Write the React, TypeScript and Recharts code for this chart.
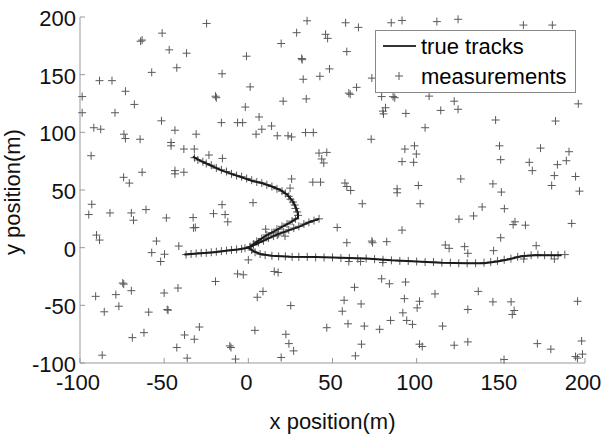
import { ScatterChart, Scatter, XAxis, YAxis } from "recharts";

// axis ticks (metres)
const xTicks = [-100, -50, 0, 50, 100, 150, 200];
const yTicks = [-100, -50, 0, 50, 100, 150, 200];

// true target tracks
const trackCurve = [
  [-33, 79], [-28, 75], [-22, 71], [-16, 67], [-10, 64], [-4, 61], [2, 58], [8, 56],
  [14, 53], [19, 50], [23, 46], [26, 41], [28, 36], [29.5, 30], [29.5, 26], [25, 22],
  [20, 18], [15, 14], [10, 10], [5, 5], [1, 1], [0, 0],
];
const trackUp = [[0, 0], [6, 4], [12, 8], [18, 12], [24, 15], [30, 18], [36, 22], [42, 25]];
const trackLeft = [[-38, -6], [-30, -5], [-20, -4], [-12, -2.5], [-6, -1.5], [-2, -0.5], [0, 0]];
const trackRight = [
  [0, 0], [3, -3], [7, -5.5], [14, -7], [25, -7.8], [40, -8.2], [55, -8.8], [70, -9.5],
  [85, -11], [100, -12], [115, -13], [130, -13.5], [140, -13.5], [148, -12], [155, -10],
  [162, -7.5], [170, -6.5], [178, -6.5], [186, -6.5],
];

// target-originated measurements along the tracks
const trackMeas = [
  [-32, 78], [-30, 76], [-27, 74.5], [-25, 73], [-22, 71.5], [-19, 69], [-16, 67.5], [-13, 66],
  [-10, 64], [-7, 62.5], [-4, 61.5], [-1, 60], [2, 58.5], [5, 57], [8, 56], [11, 54.5],
  [14, 53], [17, 51], [20, 49], [22, 47], [24, 44.5], [25, 42], [26.5, 39.5], [27.5, 37],
  [28, 34], [29, 31], [29.5, 28], [28, 25], [26, 23], [23, 20.5], [20, 18.5], [17, 16],
  [14, 13], [11, 11], [8, 8], [5, 5.5], [3, 3], [1, 1],
  [3, 2.5], [6, 4.5], [9, 6], [12, 8.5], [15, 10], [18, 12], [21, 13.5], [24, 15.5],
  [27, 17], [30, 18.5], [33, 20.5], [36, 22], [39, 23.5], [42, 25],
  [-37, -6], [-34, -5.5], [-31, -5], [-28, -4.5], [-25, -4.5], [-22, -4], [-19, -3.5],
  [-16, -3], [-13, -2.5], [-10, -2], [-7, -1.5], [-4, -1], [-2, -0.5],
  [2, -2], [4, -4], [7, -5.5], [10, -6.5], [14, -7], [18, -7.5], [22, -7.5], [26, -8],
  [30, -8], [35, -8], [40, -8.5], [45, -8.5], [50, -8.5], [55, -9], [60, -9], [65, -9.5],
  [70, -9.5], [75, -10], [80, -10.5], [85, -11], [90, -11.5], [95, -11.5], [100, -12],
  [105, -12.5], [110, -12.5], [115, -13], [120, -13], [125, -13.5], [130, -13.5],
  [135, -13.5], [140, -13], [144, -12.5], [148, -11.5], [152, -10.5], [156, -9.5],
  [160, -8], [164, -7], [168, -6.5], [172, -6], [176, -6.5], [180, -6.5], [184, -6.5], [188, -6],
];

// clutter measurements
const clutter = [
  [-24.8, 194.4], [34.9, 196.7], [57.8, 195], [65.4, 191], [84.9, 195], [91.3, 197], [112, 196],
  [124.6, 198], [163.4, 193], [180.6, 193], [-51.2, 186], [-63.1, 180], [-64, 179], [-47, 171.5],
  [-36.7, 168.6], [-42.5, 156], [-57.4, 152], [-15.6, 150.8], [-1.1, 166], [28.7, 186.4],
  [19.5, 177], [31.7, 164], [32, 163], [45.9, 185], [47.1, 181.5], [58.5, 170], [48.2, 155],
  [42.5, 148.6], [32.6, 146], [34.4, 129], [59.7, 134], [64.3, 139], [60.5, 133], [73.4, 147],
  [79.2, 131], [86, 131], [87, 130], [107.4, 131.4], [114.3, 119], [122.3, 127], [124.6, 120],
  [196, 124.7], [-88.4, 144.8], [-81, 144.8], [-98.7, 131], [-98.7, 117], [-73, 135.6],
  [-79.2, 117], [-67.7, 124.2], [-51.6, 110], [-43.6, 101.8], [-31, 98.4], [-19.5, 131.3],
  [-19, 130], [-16, 108.4], [-6.4, 108.4], [-3.4, 108.4], [-1.8, 121.9], [1.1, 139.4],
  [6.4, 113.3], [8, 102.7], [4.6, 98.4], [13.8, 105.5], [17.2, 97], [23.6, 97], [25.7, 96],
  [20.7, 127], [34, 99.8], [38.6, 99.8], [-91.8, 104], [-87.7, 102.7], [-73.9, 98.4],
  [-73, 94.6], [-64.3, 94], [-45.9, 91.2], [-45.9, 88.3], [-38.3, 85.5], [-93.4, 79.7],
  [-32.1, 85.5], [-23.4, 80.3], [-15.4, 77.4], [-43.6, 66.8], [-43.6, 64], [-38.3, 65.4],
  [-63.1, 65.4], [-74.1, 61], [-70.7, 56], [-93, 37.6], [-94.8, 28.7], [-82.2, 30.1],
  [-69.5, 30.1], [-68.2, 23.8], [-60.8, 33], [-48.7, 25.8], [-32.8, 26.1], [-32.6, 17.2],
  [-31.5, 17.5], [-41.3, 1.4], [-54.6, 5.7], [-57.4, -4.3], [-49.8, -5.7], [-52.1, -12],
  [-90.2, 10.9], [-88.4, 6.6], [-15.6, 37.3], [-13.8, 28.7], [-20.7, 29.5], [-12.2, 22.4],
  [2.8, 39], [25.7, 59.6], [24.8, 51.6], [38.3, 56.8], [42.9, 56.8], [43.6, 76.9], [42, 82],
  [46.6, 82.6], [44.8, 73.4], [10.3, 16], [17.2, 10.9], [21.8, 10], [52.8, 17.5], [58.5, 4.3],
  [73.4, 5.7], [73.8, 4.3], [82.2, 5.2], [57.4, 56], [58.5, 53], [60.8, 49.6], [67.7, 38.1],
  [73, 94], [93, 85.5], [98.7, 88.3], [99.8, 81.2], [91.3, 74.6], [98.2, 74], [105, 104],
  [93.6, 116.4], [79.9, 118.4], [80.3, 116], [81.5, 121.3], [101, 53.9], [88.4, 51],
  [88.4, 47.6], [102.1, 38.1], [91.3, 15.2], [126.2, 59.6], [125.1, 24.7], [133.8, 27.5],
  [138.9, 35.3], [145.3, 55.3], [150.3, 48.2], [152.1, 33.8], [149.2, 88.3], [149.9, 76.3],
  [146.9, 110.7], [182.5, 109.8], [173.6, 86.3], [190.5, 83.2], [188.9, 75.4], [183.6, 72],
  [166.9, 74], [168.7, 66.8], [181.8, 62.5], [180.2, 53.9], [194.4, 61.7], [196.7, 49],
  [192.1, 21], [158.4, 22.4], [157.3, 20], [164.6, 19.5], [149.9, 8.6], [171, 1.7], [117, 2.3],
  [119.3, -0.6], [128.5, 0.9], [130.4, -4.9], [145.7, -2.6], [163.6, -9.8], [181.8, -9.8],
  [79.9, -12.9], [66.6, -12], [59.7, -12], [0, -10.6], [-6.4, -22.7], [-3, -23.5],
  [15.4, -20.6], [17.7, -21.5], [-19.5, -29.3], [-41.8, -35], [-50, -39.3], [-74.6, -30.7],
  [-74, -31.6], [-69.5, -37.3], [-78.7, -40.7], [-90.7, -42.2], [-76.9, -50.8], [-85.6, -55.6],
  [-48.2, -53.6], [-47.7, -54.2], [-59.2, -55.9], [-68.9, -78], [-62, -73.7], [-29.1, -68.8],
  [-37.9, -75.7], [-32.1, -79.4], [-42.5, -86.6], [-36.3, -95.8], [-86.8, -93.2], [-11, -85.2],
  [-10.3, -86.6], [-7.6, -96.6], [8.7, -37.9], [5.3, -43], [3.9, -71.7], [25.2, -50.2],
  [22.3, -75.1], [24.1, -83.2], [26.9, -89.5], [19.5, -95.2], [46.6, -69.4], [56.9, -45.6],
  [55.8, -55.1], [63.1, -34.4], [67, -48.8], [59.2, -66], [68.9, -68], [78, -70.8], [67.2, -83.7],
  [63.6, -93.8], [79.2, -27], [83.8, -31.3], [93.4, -29.8], [92.7, -44.2], [101.7, -46.5],
  [91.8, -56.5], [94.1, -63.1], [97.5, -66.5], [84.5, -63.1], [100.3, -52.2], [110.9, -40.1],
  [115.4, -68], [130.4, -53.6], [136.6, -37.9], [145.3, -47], [156.1, -47], [157.9, -54.5],
  [156.8, -57.9], [195.6, -46.5], [101.7, -83.7], [103.3, -85.7], [122.3, -84.6], [130.4, -81.7],
  [171.7, -83.2], [179.7, -88], [198, -80.9], [198.5, -92.3], [194.4, -94.4], [195.5, -95.8],
  [151.9, -97],
];

const toPts = (arr: number[][]) => arr.map(([x, y]) => ({ x, y }));

const FONT = "'Liberation Sans', Arial, sans-serif";

const Plus = (props: any) => {
  const { cx, cy } = props;
  if (cx == null || cy == null) return <g />;
  return (
    <path
      d={`M${cx - 4},${cy}H${cx + 4}M${cx},${cy - 4}V${cy + 4}`}
      stroke="#5a5a5a"
      strokeWidth={1}
      fill="none"
    />
  );
};

const NoDot = () => <g />;

const XTick = (props: any) => {
  const { x, y, payload } = props;
  return (
    <g>
      <line x1={x} y1={y} x2={x} y2={y - 5} stroke="#999" />
      <text x={x - 2} y={y + 27} textAnchor="middle" fontSize={22} fill="#111" fontFamily={FONT}>
        {payload.value}
      </text>
    </g>
  );
};

const YTick = (props: any) => {
  const { x, y, payload } = props;
  return (
    <g>
      <line x1={x} y1={y} x2={x + 5} y2={y} stroke="#999" />
      <text x={x - 4} y={y + 9} textAnchor="end" fontSize={22} fill="#111" fontFamily={FONT}>
        {payload.value}
      </text>
    </g>
  );
};

const LegendBox = () => (
  <div
    style={{
      position: "absolute",
      left: 375,
      top: 30,
      width: 199,
      height: 61,
      border: "1px solid #888",
      background: "#fff",
      fontSize: 22,
      color: "#111",
      fontFamily: FONT,
    }}
  >
    <svg width={199} height={61} style={{ display: "block" }}>
      <line x1={7} y1={15} x2={40} y2={15} stroke="#333" strokeWidth={2} />
      <text x={45} y={23}>true tracks</text>
      <Plus cx={23} cy={45} />
      <text x={45} y={53}>measurements</text>
    </svg>
  </div>
);

export default function App() {
  return (
    <div style={{ position: "absolute", left: 0, top: 0, width: 605, height: 435, fontFamily: FONT }}>
      <ScatterChart width={605} height={435} margin={{ top: 17, right: 20, bottom: 0, left: 0 }}>
        <XAxis
          type="number"
          dataKey="x"
          domain={[-100, 200]}
          ticks={xTicks}
          height={72}
          stroke="#999"
          tickLine={false}
          tickSize={0}
          tickMargin={0}
          tick={<XTick />}
          interval={0}
          label={{ value: "x position(m)", position: "insideBottom", offset: 6, fontSize: 22, fill: "#111" }}
        />
        <YAxis
          type="number"
          dataKey="y"
          domain={[-100, 200]}
          ticks={yTicks}
          width={80}
          stroke="#999"
          tickLine={false}
          tickSize={0}
          tickMargin={0}
          tick={<YTick />}
          interval={0}
          label={{ value: "y position(m)", angle: -90, position: "insideLeft", offset: 12, dy: 65, fontSize: 22, fill: "#111" }}
        />
        <Scatter data={toPts(clutter)} shape={<Plus />} isAnimationActive={false} />
        <Scatter data={toPts(trackMeas)} shape={<Plus />} isAnimationActive={false} />
        <Scatter data={toPts(trackCurve)} line={{ stroke: "#1a1a1a", strokeWidth: 2 }} lineType="joint" shape={<NoDot />} isAnimationActive={false} />
        <Scatter data={toPts(trackUp)} line={{ stroke: "#1a1a1a", strokeWidth: 2 }} lineType="joint" shape={<NoDot />} isAnimationActive={false} />
        <Scatter data={toPts(trackLeft)} line={{ stroke: "#1a1a1a", strokeWidth: 2 }} lineType="joint" shape={<NoDot />} isAnimationActive={false} />
        <Scatter data={toPts(trackRight)} line={{ stroke: "#1a1a1a", strokeWidth: 2 }} lineType="joint" shape={<NoDot />} isAnimationActive={false} />
      </ScatterChart>
      <LegendBox />
    </div>
  );
}
